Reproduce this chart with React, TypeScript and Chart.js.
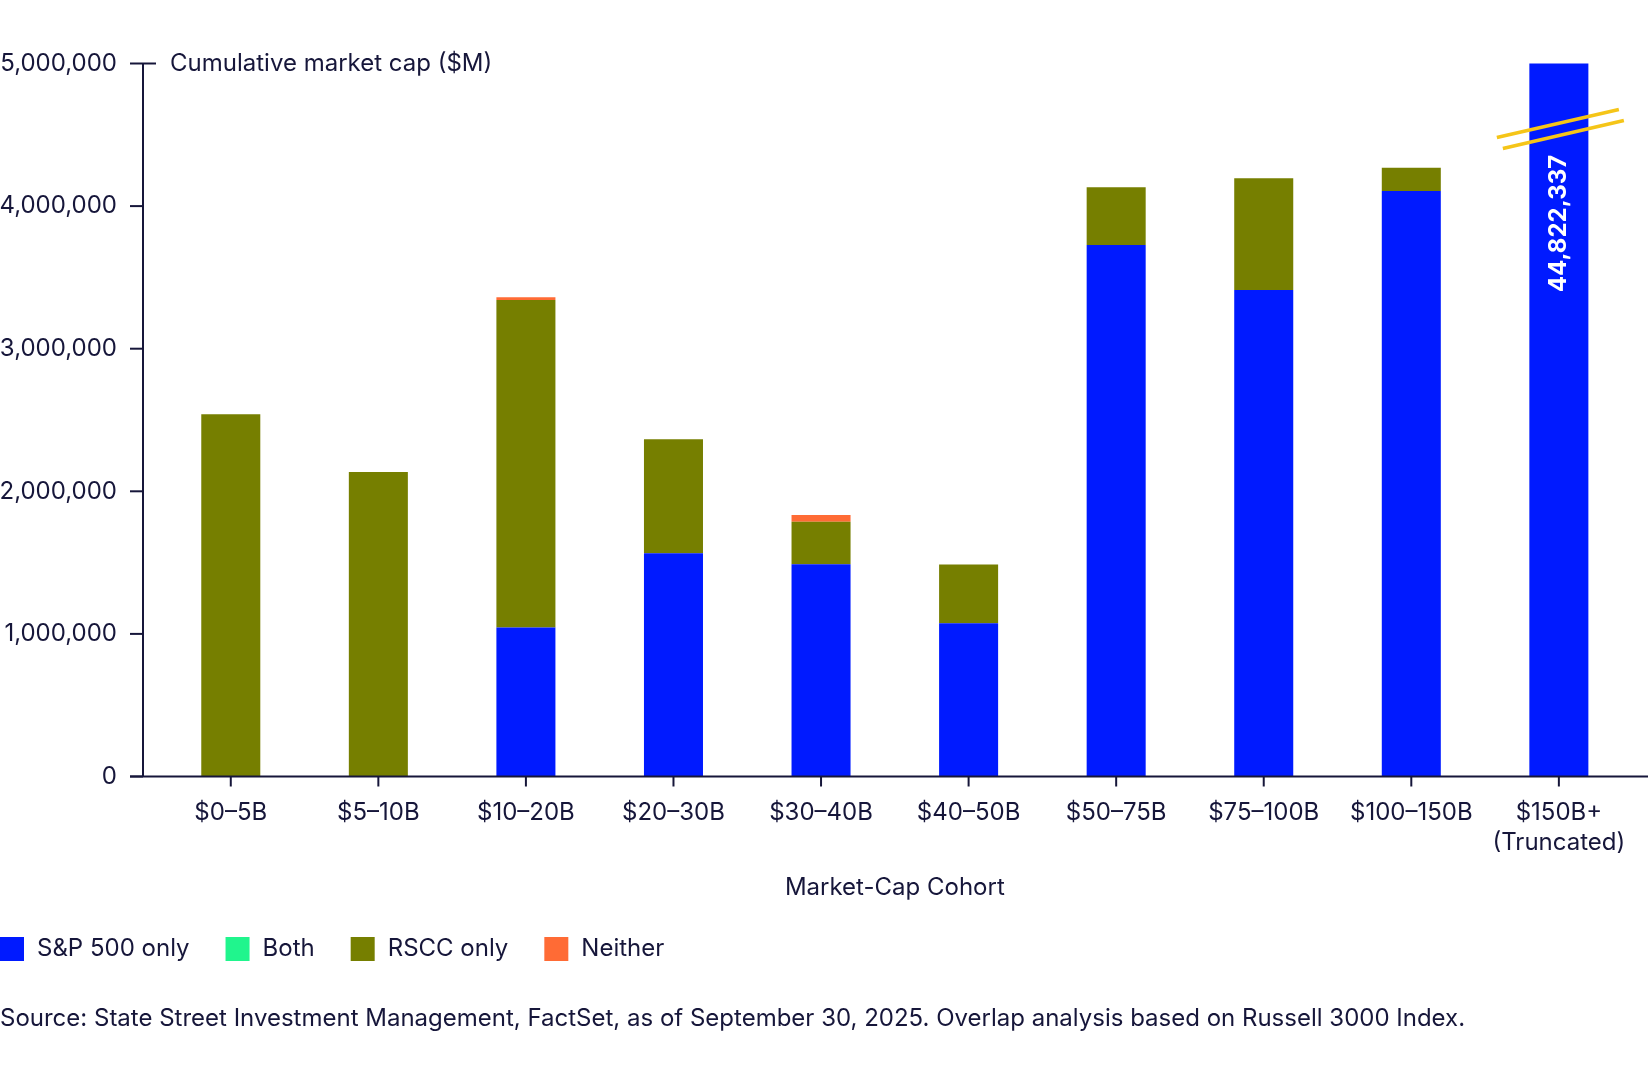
import React, { useEffect, useRef } from 'react';
import { Chart, registerables } from 'chart.js';

Chart.register(...registerables);

const categories: (string | string[])[] = [
  '$0–5B', '$5–10B', '$10–20B', '$20–30B', '$30–40B', '$40–50B',
  '$50–75B', '$75–100B', '$100–150B', ['$150B+', '(Truncated)'],
];
const sp500Only = [0, 0, 1045000, 1565000, 1488000, 1075000, 3727000, 3412000, 4106000, 44822337];
const both = [0, 0, 0, 0, 0, 0, 0, 0, 0, 0];
const rsccOnly = [2541000, 2136000, 2296000, 800000, 299000, 412000, 405000, 783000, 163000, 0];
const neither = [0, 0, 19000, 0, 47000, 0, 0, 0, 0, 0];
const seriesLabels = ['S&P 500 only', 'Both', 'RSCC only', 'Neither'];
const seriesColors = ['#001AFF', '#20F58D', '#767F00', '#FF6B35'];
const yMax = 5000000;
const yStep = 1000000;
const yTitle = 'Cumulative market cap ($M)';
const xTitle = 'Market-Cap Cohort';
const sourceText =
  'Source: State Street Investment Management, FactSet, as of September 30, 2025. Overlap analysis based on Russell 3000 Index.';

const INK = '#16163A';
const FONT = 'Inter, "Noto Sans", sans-serif';
const FS = 24;

const overlay = {
  id: 'overlay',
  afterDatasetsDraw(chart: any) {
    const { ctx, chartArea, scales } = chart;
    const x = scales.x;
    const y = scales.y;
    const axisX = chartArea.left - 14;
    const zeroY = y.getPixelForValue(0);
    const topY = y.getPixelForValue(y.max);
    const seg = (x1: number, y1: number, x2: number, y2: number) => {
      ctx.beginPath();
      ctx.moveTo(x1, y1);
      ctx.lineTo(x2, y2);
      ctx.stroke();
    };
    ctx.save();
    ctx.strokeStyle = INK;
    ctx.lineWidth = 2;
    seg(axisX, topY, axisX, zeroY);
    y.ticks.forEach((t: any) => {
      const py = y.getPixelForValue(t.value);
      seg(axisX - 13, py, t.value === y.max ? axisX + 13 : axisX, py);
    });
    seg(axisX - 13, zeroY, chart.width, zeroY);
    x.ticks.forEach((_t: any, i: number) => {
      const px = x.getPixelForTick(i);
      seg(px, zeroY, px, zeroY + 10);
    });

    // y-axis title
    ctx.fillStyle = INK;
    ctx.font = `${FS}px ${FONT}`;
    ctx.textAlign = 'left';
    ctx.textBaseline = 'middle';
    ctx.fillText(yTitle, axisX + 27, topY);

    // truncated bar: break marks + value label
    const meta = chart.getDatasetMeta(0);
    const last = sp500Only.length - 1;
    const el = meta.data[last];
    if (el) {
      const bx = el.x;
      const t = chartArea.top;
      ctx.strokeStyle = '#F5C518';
      ctx.lineWidth = 3.5;
      seg(bx - 62, t + 74, bx + 60, t + 46);
      seg(bx - 56, t + 85, bx + 65, t + 57);

      ctx.save();
      ctx.translate(bx, t + 160);
      ctx.rotate(-Math.PI / 2);
      ctx.fillStyle = '#FFFFFF';
      ctx.font = `bold ${FS}px ${FONT}`;
      ctx.textAlign = 'center';
      ctx.textBaseline = 'middle';
      ctx.fillText(sp500Only[last].toLocaleString('en-US'), 0, 0);
      ctx.restore();
    }

    // legend
    ctx.font = `${FS}px ${FONT}`;
    ctx.textAlign = 'left';
    ctx.textBaseline = 'middle';
    let lx = 0;
    const ly = 949;
    chart.data.datasets.forEach((ds: any) => {
      ctx.fillStyle = ds.backgroundColor;
      ctx.fillRect(lx, ly - 12, 24, 24);
      ctx.fillStyle = INK;
      ctx.fillText(ds.label, lx + 37, ly);
      lx += 37 + ctx.measureText(ds.label).width + 36;
    });

    // source
    ctx.fillStyle = INK;
    ctx.fillText(sourceText, 0, 1019);
    ctx.restore();
  },
};

export default function App() {
  const ref = useRef<HTMLCanvasElement | null>(null);

  useEffect(() => {
    document.body.style.margin = '0';
    const canvas = ref.current;
    if (!canvas) return;
    const data = [sp500Only, both, rsccOnly, neither];
    const chart = new Chart(canvas, {
      type: 'bar',
      data: {
        labels: categories as any,
        datasets: data.map((d, i) => ({
          label: seriesLabels[i],
          data: d,
          backgroundColor: seriesColors[i],
          borderWidth: 0,
          barPercentage: 0.4,
          categoryPercentage: 1.0,
          clip: 0 as any,
        })),
      },
      options: {
        animation: false,
        responsive: false,
        layout: { padding: { left: 0, right: 15, top: 63.5, bottom: 163.5 } },
        plugins: {
          legend: { display: false },
          tooltip: { enabled: false },
        },
        scales: {
          x: {
            stacked: true,
            grid: { display: false, drawTicks: false },
            border: { display: false },
            ticks: {
              color: INK,
              font: { family: FONT, size: FS, lineHeight: 1.23 },
              padding: 22,
              maxRotation: 0,
              autoSkip: false,
            },
            title: {
              display: true,
              text: xTitle,
              color: INK,
              font: { family: FONT, size: FS, lineHeight: 1.2 },
              padding: { top: 0, bottom: 14 },
            },
            afterFit: (s: any) => {
              s.height = 140;
            },
          },
          y: {
            stacked: true,
            min: 0,
            max: yMax,
            grid: { display: false, drawTicks: false },
            border: { display: false },
            ticks: {
              stepSize: yStep,
              color: INK,
              font: { family: FONT, size: FS },
              padding: 40,
              callback: (v: any) => Number(v).toLocaleString('en-US'),
            },
            afterFit: (s: any) => {
              s.width = 157;
            },
          },
        },
      },
      plugins: [overlay],
    });
    return () => chart.destroy();
  }, []);

  return (
    <div style={{ width: 1648, height: 1080, background: '#fff' }}>
      <canvas ref={ref} width={1648} height={1080} style={{ display: 'block' }} />
    </div>
  );
}
